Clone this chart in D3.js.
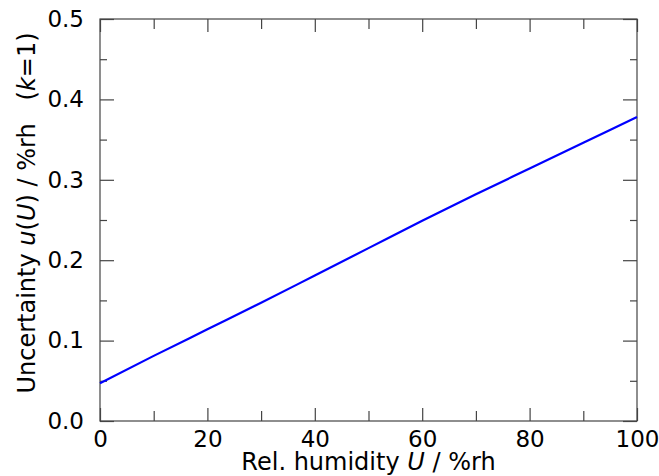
<!DOCTYPE html>
<html>
<head>
<meta charset="utf-8">
<script src="https://cdn.jsdelivr.net/npm/d3@7"></script>
<style>
  body { margin: 0; background: #fff; }
  svg text { font-family: "DejaVu Sans", sans-serif; fill: #000; }
</style>
</head>
<body>
<svg id="chart" width="659" height="476"></svg>
<script>
// relative humidity (%rh) and standard uncertainty u(U) (%rh), k=1
const humidity    = [0, 10, 20, 30, 40, 50, 60, 70, 80, 90, 100];
const uncertainty = [0.047, 0.081, 0.114, 0.147, 0.181, 0.215, 0.249, 0.282, 0.314, 0.346, 0.378];

const xTicks = [0, 20, 40, 60, 80, 100];
const yTicks = [0.0, 0.1, 0.2, 0.3, 0.4, 0.5];
const xMinor = [10, 30, 50, 70, 90];
const yMinor = [0.05, 0.15, 0.25, 0.35, 0.45];

let svg = d3.select("#chart");

const mLeft = 100, mRight = 637, mTop = 19, mBottom = 421;
const axisColor = "#444";

let xScale = d3.scaleLinear().domain([0, 100]).range([mLeft, mRight]),
    yScale = d3.scaleLinear().domain([0, 0.5]).range([mBottom, mTop]);

/* frame */
svg.append("rect")
    .attr("x", mLeft).attr("y", mTop)
    .attr("width", mRight - mLeft).attr("height", mBottom - mTop)
    .attr("fill", "none")
    .attr("stroke", axisColor)
    .attr("stroke-width", 1.2);

/* bottom / top x axes (ticks inward) */
svg.append("g")
    .attr("transform", `translate(0, ${mBottom})`)
    .call(d3.axisBottom(xScale).tickValues(xTicks).tickFormat(d3.format("d"))
            .tickSizeInner(-13).tickSizeOuter(0).tickPadding(10))
    .call(g => g.select(".domain").remove())
    .call(g => g.selectAll("line").attr("stroke", axisColor).attr("stroke-width", 1.2))
    .call(g => g.selectAll("text").attr("font-size", 23).attr("font-family", "DejaVu Sans"));

svg.append("g")
    .attr("transform", `translate(0, ${mBottom})`)
    .call(d3.axisBottom(xScale).tickValues(xMinor).tickFormat("")
            .tickSizeInner(-10).tickSizeOuter(0))
    .call(g => g.select(".domain").remove())
    .call(g => g.selectAll("line").attr("stroke", axisColor).attr("stroke-width", 1.2));

svg.append("g")
    .attr("transform", `translate(0, ${mTop})`)
    .call(d3.axisTop(xScale).tickValues(xTicks.concat(xMinor)).tickFormat("")
            .tickSizeInner(0).tickSizeOuter(0))
    .call(g => g.select(".domain").remove())
    .call(g => g.selectAll(".tick line")
        .attr("y2", d => xMinor.includes(d) ? 10 : 13)
        .attr("stroke", axisColor).attr("stroke-width", 1.2));

/* left / right y axes */
svg.append("g")
    .attr("transform", `translate(${mLeft}, 0)`)
    .call(d3.axisLeft(yScale).tickValues(yTicks).tickFormat(d3.format(".1f"))
            .tickSizeInner(-14).tickSizeOuter(0).tickPadding(16))
    .call(g => g.select(".domain").remove())
    .call(g => g.selectAll("line").attr("stroke", axisColor).attr("stroke-width", 1.2))
    .call(g => g.selectAll("text").attr("font-size", 23).attr("font-family", "DejaVu Sans"));

svg.append("g")
    .attr("transform", `translate(${mLeft}, 0)`)
    .call(d3.axisLeft(yScale).tickValues(yMinor).tickFormat("")
            .tickSizeInner(-7).tickSizeOuter(0))
    .call(g => g.select(".domain").remove())
    .call(g => g.selectAll("line").attr("stroke", axisColor).attr("stroke-width", 1.2));

svg.append("g")
    .attr("transform", `translate(${mRight}, 0)`)
    .call(d3.axisRight(yScale).tickValues(yTicks.concat(yMinor)).tickFormat("")
            .tickSizeInner(0).tickSizeOuter(0))
    .call(g => g.select(".domain").remove())
    .call(g => g.selectAll(".tick line")
        .attr("x2", d => yMinor.includes(d) ? -7 : -14)
        .attr("stroke", axisColor).attr("stroke-width", 1.2));

/* data line */
let line = d3.line()
    .x((d, i) => xScale(humidity[i]))
    .y(d => yScale(d))
    .curve(d3.curveMonotoneX);

svg.append("path")
    .datum(uncertainty)
    .attr("d", line)
    .attr("fill", "none")
    .attr("stroke", "#0000ff")
    .attr("stroke-width", 2.2);

/* axis labels */
let xLab = svg.append("text")
    .attr("x", (mLeft + mRight) / 2)
    .attr("y", 470)
    .attr("text-anchor", "middle")
    .attr("font-size", 24);
xLab.append("tspan").text("Rel. humidity ");
xLab.append("tspan").attr("font-style", "italic").text("U");
xLab.append("tspan").text(" / %rh");

let yLab = svg.append("text")
    .attr("transform", "translate(35, 213) rotate(-90)")
    .attr("text-anchor", "middle")
    .attr("font-size", 24)
    .style("white-space", "pre");
yLab.append("tspan").text("Uncertainty ");
yLab.append("tspan").attr("font-style", "italic").text("u");
yLab.append("tspan").text("(");
yLab.append("tspan").attr("font-style", "italic").text("U");
yLab.append("tspan").text(") / %rh   (");
yLab.append("tspan").attr("font-style", "italic").text("k");
yLab.append("tspan").text("=1)");
</script>
</body>
</html>
